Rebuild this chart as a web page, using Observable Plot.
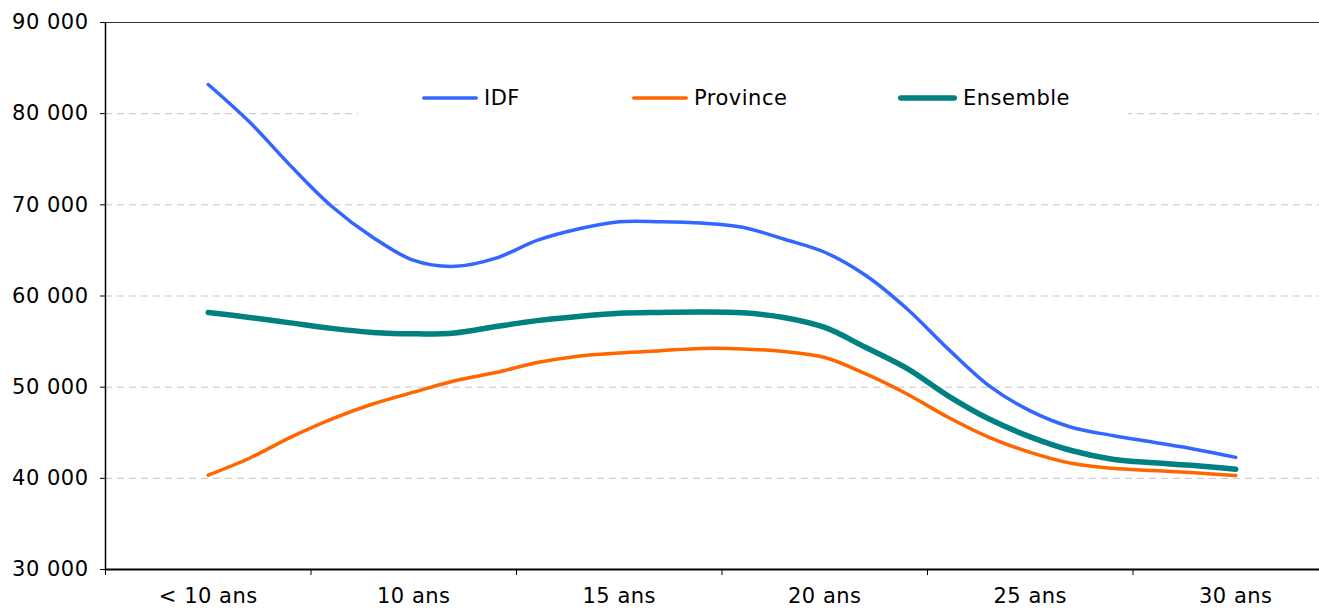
<!DOCTYPE html>
<html><head><meta charset="utf-8">
<script src="https://cdn.jsdelivr.net/npm/d3@7"></script>
<script src="https://cdn.jsdelivr.net/npm/@observablehq/plot@0.6"></script>
<style>
html,body{margin:0;padding:0;background:#fff;overflow:hidden;}
#wrap{position:relative;width:1319px;height:609px;}
#legend{position:absolute;left:358px;top:76px;width:770px;height:44px;background:#fff;font-family:"DejaVu Sans",Verdana,sans-serif;font-size:21px;color:#000;}
.item{position:absolute;top:0;height:44px;display:flex;align-items:center;}
.item svg{display:block;margin-right:6px;}
svg text{letter-spacing:0.5px;}
</style></head><body><div id="wrap"></div>
<script>
// Tick labels of the category axis and the category index where each is centred
const tickLabels = ["< 10 ans", "10 ans", "15 ans", "20 ans", "25 ans", "30 ans"];
const tickIndex = [0, 5, 10, 15, 20, 25];
// Tick marks between label groups (category boundaries)
const groupBounds = [-2.5, 2.5, 7.5, 12.5, 17.5, 22.5, 27.5];
// Y axis ticks
const yTicks = [30000, 40000, 50000, 60000, 70000, 80000, 90000];
const gridTicks = [40000, 50000, 60000, 70000, 80000];

// Series values (26 points each, index 0 = "< 10 ans", index 25 = "30 ans")
const idf = [83200, 79100, 74300, 69850, 66450, 63900, 63250, 64150, 66100, 67350, 68150, 68150, 68000, 67550, 66250, 64800, 62250, 58600, 54200, 50150, 47400, 45600, 44700, 43950, 43200, 42300];
const province = [40350, 42200, 44500, 46500, 48150, 49450, 50700, 51600, 52700, 53400, 53750, 54000, 54250, 54200, 53900, 53250, 51450, 49250, 46700, 44500, 42850, 41650, 41100, 40850, 40600, 40300];
const ensemble = [58200, 57650, 57050, 56450, 56000, 55850, 55950, 56650, 57300, 57750, 58100, 58200, 58250, 58150, 57650, 56550, 54350, 52050, 49050, 46500, 44550, 43050, 42100, 41700, 41400, 41000];

const seriesNames = ["IDF", "Province", "Ensemble"];
const seriesColors = ["#3366FF", "#FF6600", "#008080"];
const seriesWidths = [3.5, 3.5, 5.5];
const seriesValues = [idf, province, ensemble];

const toRows = (vals) => vals.map((v, i) => ({i, v}));
const fmt = d => d3.format(",")(d).replace(/,/g, " ");

const chart = Plot.plot({
  width: 1319,
  height: 609,
  marginLeft: 105,
  marginTop: 22,
  marginBottom: 40,
  marginRight: 0,
  style: {fontFamily: "'DejaVu Sans', Verdana, sans-serif", fontSize: "21px", color: "#000", background: "#fff", overflow: "hidden"},
  x: {domain: [-2.5, 27.5], range: [105, 1338], label: null},
  y: {domain: [30000, 90000], label: null},
  marks: [
    Plot.ruleY(gridTicks, {stroke: "#c4c4c4", strokeWidth: 1, strokeDasharray: "7,5"}),
    Plot.ruleY([90000], {stroke: "#333", strokeWidth: 1}),
    Plot.ruleX([-2.5], {stroke: "#000", strokeWidth: 1.5}),
    Plot.axisY({ticks: yTicks, tickSize: 5, tickPadding: 12, tickFormat: fmt, fontSize: 21}),
    Plot.axisX({ticks: groupBounds, tickSize: 6, tickFormat: () => ""}),
    Plot.axisX({ticks: tickIndex, tickSize: 0, tickPadding: 19, tickFormat: i => tickLabels[tickIndex.indexOf(i)], fontSize: 21}),
    ...seriesValues.map((vals, k) => Plot.line(toRows(vals), {
      x: "i", y: "v", stroke: seriesColors[k], strokeWidth: seriesWidths[k],
      curve: "catmull-rom", strokeLinecap: "round", strokeLinejoin: "round"
    })),
    Plot.ruleY([30000], {stroke: "#000", strokeWidth: 2})
  ]
});

const wrap = document.getElementById("wrap");
wrap.appendChild(chart);

// Legend overlay
const legend = document.createElement("div");
legend.id = "legend";
const legendLeft = [64, 274, 540];
const legendLen = [56, 56, 59];
seriesNames.forEach((name, k) => {
  const item = document.createElement("div");
  item.className = "item";
  item.style.left = legendLeft[k] + "px";
  const w = legendLen[k];
  item.innerHTML = `<svg width="${w}" height="10"><line x1="${seriesWidths[k]/2}" x2="${w - seriesWidths[k]/2}" y1="5" y2="5" stroke="${seriesColors[k]}" stroke-width="${seriesWidths[k]}" stroke-linecap="round"/></svg><span style="letter-spacing:0.5px">${name}</span>`;
  legend.appendChild(item);
});
wrap.appendChild(legend);
</script>
</body></html>
